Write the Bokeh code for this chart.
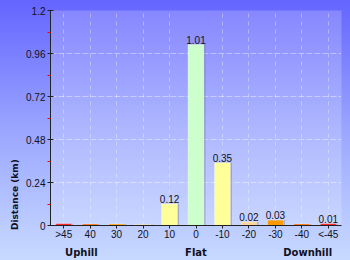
import math
from bokeh.plotting import figure
from bokeh.models import (ColumnDataSource, FactorRange, Range1d, FixedTicker, LinearAxis,
                          CategoricalAxis)
from bokeh.core.properties import value
from bokeh.transform import dodge
from bokeh.embed import file_html
from bokeh.resources import INLINE

categories = [">45", "40", "30", "20", "10", "0", "-10", "-20", "-30", "-40", "<-45"]
distances = [0.01, 0.008, 0.008, 0.006, 0.12, 1.01, 0.35, 0.02, 0.03, 0.008, 0.01]
value_labels = ["", "", "", "", "0.12", "1.01", "0.35", "0.02", "0.03", "", "0.01"]
bar_colors = ["#ff1a1a", "#ff6600", "#ff9900", "#ffd699", "#ffff99", "#ccffcc",
              "#ffff99", "#ffd699", "#ff9900", "#ff6600", "#ff1a1a"]
y_ticks = [0, 0.24, 0.48, 0.72, 0.96, 1.2]
y_tick_labels = ["0", "0.24", "0.48", "0.72", "0.96", "1.2"]
y_minor = [0.12, 0.36, 0.6, 0.84, 1.08]
group_labels = ["Uphill", "Flat", "Downhill"]
y_title = "Distance (km)"
y_title_pos = 0.37

# fine slots across the x axis used only to place the group captions
n_slots = 99
group_slots = [10, 49, 87]
slot_names = [" " * (i + 1) for i in range(n_slots)]
for k, txt in zip(group_slots, group_labels):
    slot_names[k] = txt

src = ColumnDataSource(dict(cat=categories, d=distances, lab=value_labels, col=bar_colors))

p = figure(width=350, height=260, x_range=FactorRange(*categories, range_padding=0),
           y_range=Range1d(0, 1.2), output_backend="svg", toolbar_location=None,
           min_border_left=50, min_border_right=9, min_border_top=10, min_border_bottom=34)
p.extra_x_ranges = {"grp": FactorRange(*slot_names, range_padding=0)}
p.border_fill_alpha = 0
p.styles = {"background": "linear-gradient(#6464ff 0%, #9aa6ff 50%, #c8daff 100%)"}
p.background_fill_color = "white"
p.background_fill_alpha = 0.2
p.outline_line_color = None

# grid
p.xgrid.grid_line_color = "white"
p.xgrid.grid_line_alpha = 0.35
p.xgrid.grid_line_dash = "4 4"
p.ygrid.grid_line_color = "white"
p.ygrid.grid_line_alpha = 0.4
p.ygrid.grid_line_dash = "6 2"
p.ygrid.ticker = FixedTicker(ticks=y_ticks)

# shadow + bars
p.vbar(x=dodge("cat", 0.06, range=p.x_range), top="d", width=0.6, source=src,
       fill_color="#606080", fill_alpha=0.35, line_color=None)
p.vbar(x="cat", top="d", width=0.6, source=src, fill_color="col", line_color="white",
       line_alpha=0.3, line_width=1)

p.text(x="cat", y="d", text="lab", source=src, text_align="center", text_baseline="bottom",
       y_offset=-1, text_font=value("Liberation Sans"), text_font_size="10px", text_color="#111122")

# axes
ya = p.yaxis[0]
ya.ticker = FixedTicker(ticks=y_ticks, minor_ticks=y_minor)
ya.major_label_overrides = {t: l for t, l in zip(y_ticks, y_tick_labels)}
ya.axis_line_color = "#222222"
ya.major_tick_line_color = "#222222"
ya.major_tick_in = 3
ya.major_tick_out = 3
ya.minor_tick_line_color = "red"
ya.minor_tick_in = 0
ya.minor_tick_out = 3
ya.major_label_text_font = "Liberation Sans"
ya.major_label_text_font_size = "10px"
ya.major_label_text_color = "#111122"
ya.major_label_standoff = 2

xa = p.xaxis[0]
xa.axis_line_color = "#222222"
xa.major_tick_line_color = "#222222"
xa.major_tick_in = 0
xa.major_tick_out = 3
xa.major_label_text_font = "Liberation Sans"
xa.major_label_text_font_size = "10px"
xa.major_label_text_color = "#111122"
xa.major_label_standoff = 0

# group captions under the axis
ga = CategoricalAxis(x_range_name="grp",
                     axis_line_color=None, major_tick_line_color=None, minor_tick_line_color=None,
                     major_label_text_font="DejaVu Sans", major_label_text_font_style="bold",
                     major_label_text_font_size="10px", major_label_text_color="#111122",
                     major_label_standoff=-2)
p.add_layout(ga, "below")

# y title as a single rotated tick label
ta = LinearAxis(ticker=FixedTicker(ticks=[y_title_pos]),
                major_label_overrides={y_title_pos: y_title},
                major_label_orientation=math.pi / 2,
                axis_line_color=None, major_tick_line_color=None, minor_tick_line_color=None,
                major_label_text_font="DejaVu Sans", major_label_text_font_style="bold",
                major_label_text_font_size="9px", major_label_text_color="#111122",
                major_label_standoff=2)
p.add_layout(ta, "left")

open("out.html", "w").write(file_html(p, INLINE))
